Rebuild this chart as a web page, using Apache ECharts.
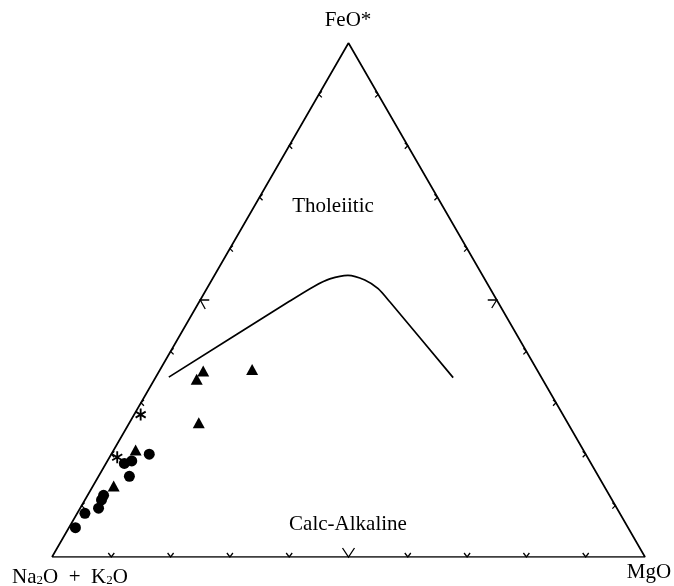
<!DOCTYPE html>
<html>
<head>
<meta charset="utf-8">
<script src="https://cdn.jsdelivr.net/npm/echarts@6/dist/echarts.min.js"></script>
<style>html,body{margin:0;padding:0;background:#fff}#c{width:674px;height:586px}</style>
</head>
<body>
<div id="c"></div>
<script>
// Ternary values as [A (Na2O+K2O), F (FeO*), M (MgO)] in percent
const circles = [
  [93.2, 5.7, 1.1], [90.2, 8.5, 1.3], [87.4, 9.5, 3.1], [86.1, 11.1, 2.8],
  [85.3, 12.0, 2.7], [79.1, 15.7, 5.2], [78.7, 18.2, 3.1], [77.2, 18.7, 4.1],
  [73.6, 20.0, 6.4]
];
const triangles = [
  [82.7, 13.8, 3.5], [75.5, 20.8, 3.7], [56.4, 36.2, 7.4], [58.3, 34.6, 7.1],
  [48.0, 36.5, 15.5], [62.2, 26.1, 11.7]
];
const asterisks = [
  [79.3, 19.4, 1.3], [71.2, 27.7, 1.1]
];
// Irvine & Baragar tholeiitic / calc-alkaline boundary
const boundary = [
  [62.8, 35.0, 2.2], [35.0, 49.8, 15.2], [29.6, 52.6, 17.8], [26.1, 54.1, 19.8],
  [22.7, 54.8, 22.5], [20.3, 53.9, 25.8], [18.9, 52.2, 28.9], [18.2, 49.6, 32.2],
  [14.9, 34.9, 50.2]
];
const tickValues = [10, 20, 30, 40, 50, 60, 70, 80, 90];
const vertexLabels = ['FeO*', 'Na{s|2}O  +  K{s|2}O', 'MgO'];
const fieldLabels = ['Tholeiitic', 'Calc-Alkaline'];

const H = Math.sqrt(3) / 2;
function toXY(t) { const F = t[1], M = t[2]; return [M + F / 2, F * H]; }

const outline = [[100, 0, 0], [0, 100, 0], [0, 0, 100], [100, 0, 0]].map(toXY);

// tick data: [x, y, side(0 bottom,1 left,2 right), big]
const ticks = [];
tickValues.forEach(v => {
  const big = v === 50 ? 1 : 0;
  const b = toXY([100 - v, 0, v]); ticks.push([b[0], b[1], 0, big]);
  const l = toXY([100 - v, v, 0]); ticks.push([l[0], l[1], 1, big]);
  const r = toXY([0, v, 100 - v]); ticks.push([r[0], r[1], 2, big]);
});

const asteriskPath = 'path://M-1.6,-10L1.6,-10L1.6,10L-1.6,10Z M7.86,-6.39L9.46,-3.61L-7.86,6.39L-9.46,3.61Z M-9.46,-3.61L-7.86,-6.39L9.46,3.61L7.86,6.39Z';

const serif = '"Liberation Serif", "DejaVu Serif", serif';
const chart = echarts.init(document.getElementById('c'));
chart.setOption({
  animation: false,
  backgroundColor: '#fff',
  grid: { left: 52, right: 29, top: 43, bottom: 29 },
  xAxis: { type: 'value', min: 0, max: 100, show: false },
  yAxis: { type: 'value', min: 0, max: 100 * H, show: false },
  graphic: [
    { type: 'text', x: 348, y: 20, style: { text: vertexLabels[0], font: '21px ' + serif, fill: '#000', align: 'center', verticalAlign: 'middle' } },
    { type: 'text', x: 12, y: 577, style: { text: vertexLabels[1], fill: '#000', align: 'left', verticalAlign: 'middle', font: '21px ' + serif,
      rich: { s: { fontSize: 13, fontFamily: serif, verticalAlign: 'bottom', lineHeight: 13 } } } },
    { type: 'text', x: 649, y: 572, style: { text: vertexLabels[2], font: '21px ' + serif, fill: '#000', align: 'center', verticalAlign: 'middle' } },
    { type: 'text', x: 333, y: 206, style: { text: fieldLabels[0], font: '21px ' + serif, fill: '#000', align: 'center', verticalAlign: 'middle' } },
    { type: 'text', x: 348, y: 524, style: { text: fieldLabels[1], font: '21px ' + serif, fill: '#000', align: 'center', verticalAlign: 'middle' } }
  ],
  series: [
    { type: 'line', data: outline, symbol: 'none', lineStyle: { color: '#000', width: 1.7 }, silent: true },
    { type: 'line', data: boundary.map(toXY), symbol: 'none', smooth: 0.25, lineStyle: { color: '#000', width: 1.7 }, silent: true },
    {
      type: 'custom', data: ticks, silent: true,
      renderItem: function (params, api) {
        const p = api.coord([api.value(0), api.value(1)]);
        const side = api.value(2), big = api.value(3);
        let pts;
        if (side === 0) {
          pts = big ? [[-6, -9], [0, 0], [6, -9]] : [[-3, -4], [0, 0], [3, -4]];
        } else if (side === 1) {
          pts = big ? [[9, 0], [0, 0], [5, 9]] : [[3, -3], [0, 0], [3, 3]];
        } else {
          pts = big ? [[-9, 0], [0, 0], [-5, 8]] : [[-3, -3], [0, 0], [-3, 3]];
        }
        return { type: 'polyline', shape: { points: pts.map(q => [p[0] + q[0], p[1] + q[1]]) }, style: { stroke: '#000', lineWidth: 1.3, fill: null } };
      }
    },
    { type: 'scatter', data: circles.map(toXY), symbol: 'circle', symbolSize: 11, itemStyle: { color: '#000', opacity: 1 } },
    { type: 'scatter', data: triangles.map(toXY), symbol: 'triangle', symbolSize: [12, 11], itemStyle: { color: '#000', opacity: 1 } },
    { type: 'scatter', data: asterisks.map(toXY), symbol: asteriskPath, symbolSize: [11, 12], itemStyle: { color: '#000', opacity: 1 } }
  ]
});
</script>
</body>
</html>
